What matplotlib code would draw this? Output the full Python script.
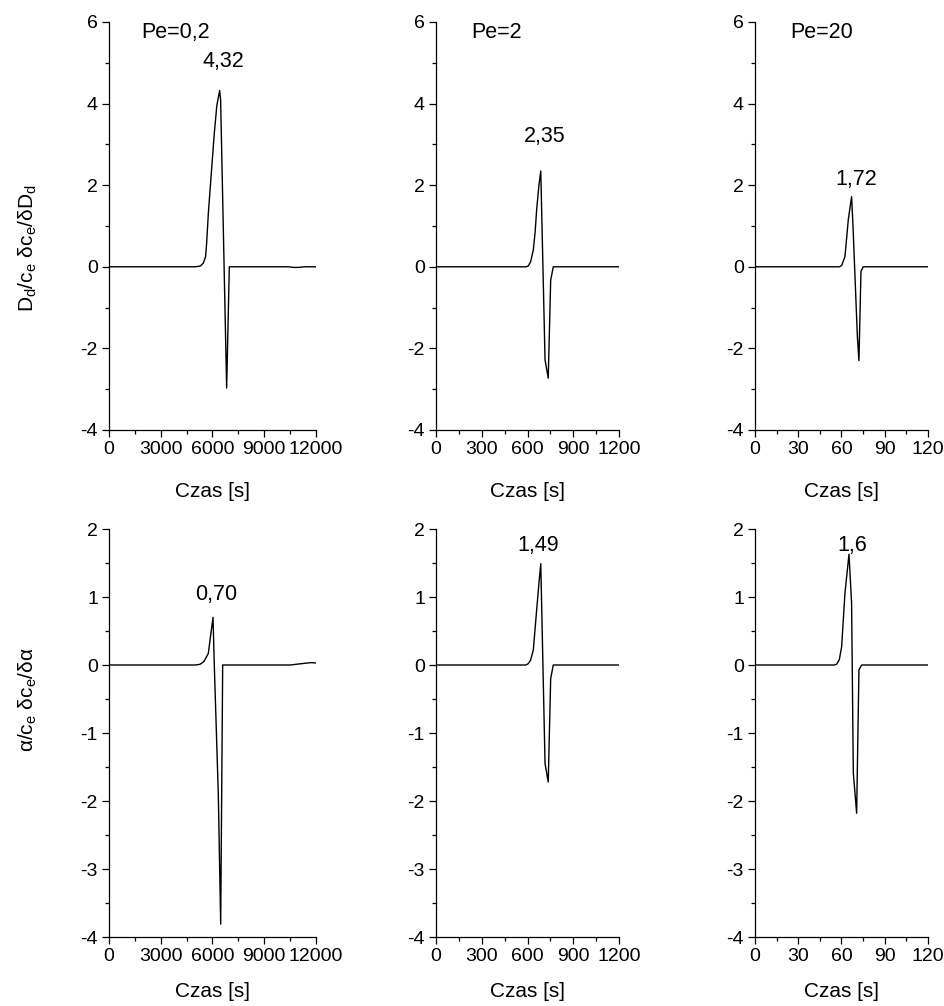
import numpy as np
import matplotlib
matplotlib.use("Agg")
import matplotlib.pyplot as plt
from matplotlib.ticker import MultipleLocator

plt.rcParams['font.family'] = ['Liberation Sans', 'DejaVu Sans']
plt.rcParams['mathtext.fontset'] = 'custom'
plt.rcParams['mathtext.rm'] = 'Liberation Sans'
plt.rcParams['mathtext.it'] = 'Liberation Sans'
plt.rcParams['axes.unicode_minus'] = False

# top row: D_d sensitivity, bottom row: alpha sensitivity
t_dd_pe02 = [0, 5000, 5300, 5467, 5600, 5660, 5760, 5950, 6100, 6250, 6413, 6470, 6820, 6975, 10400, 10700, 11000, 11300, 12000]
s_dd_pe02 = [0, 0, 0.02, 0.09, 0.25, 0.58, 1.32, 2.4, 3.25, 3.95, 4.32, 4.1, -2.97, 0, 0, -0.015, -0.015, 0, 0]

t_dd_pe2 = [0, 590, 605, 620, 638, 650, 660, 675, 687, 715, 736, 752, 769, 1200]
s_dd_pe2 = [0, 0, 0.02, 0.12, 0.41, 0.85, 1.4, 2.0, 2.35, -2.28, -2.73, -0.33, 0, 0]

t_dd_pe20 = [0, 58.5, 60.1, 62.4, 64.7, 67.0, 68.0, 71.0, 72.1, 73.5, 75.1, 120]
s_dd_pe20 = [0, 0, 0.03, 0.25, 1.15, 1.72, 0.98, -1.7, -2.3, -0.11, 0, 0]

t_al_pe02 = [0, 5000, 5275, 5500, 5757, 5900, 6030, 6104, 6337, 6474, 6590, 10500, 11000, 11700, 12000]
s_al_pe02 = [0, 0, 0.01, 0.05, 0.17, 0.45, 0.70, 0.0, -1.90, -3.81, 0, 0, 0.015, 0.035, 0.03]

t_al_pe2 = [0, 590, 605, 620, 638, 660, 675, 687, 715, 736, 752, 769, 1200]
s_al_pe2 = [0, 0, 0.02, 0.07, 0.22, 0.81, 1.2, 1.49, -1.45, -1.72, -0.20, 0, 0]

t_al_pe20 = [0, 55, 56.6, 58.5, 60.1, 62.4, 65.2, 67.0, 68.2, 70.5, 72.1, 74.0, 120]
s_al_pe20 = [0, 0, 0.01, 0.08, 0.27, 1.06, 1.63, 0.91, -1.59, -2.18, -0.07, 0, 0]

pe_labels = ["Pe=0,2", "Pe=2", "Pe=20"]
peak_dd = ["4,32", "2,35", "1,72"]
peak_al = ["0,70", "1,49", "1,6"]
x_max = [12000, 1200, 120]

W, H = 945, 1006
fig = plt.figure(figsize=(W / 100, H / 100), dpi=100)

# pixel boxes of the axes (left, right) per column, (top, bottom) per row
cols = [(109, 316), (436, 619), (755, 928)]
rows = [(22, 430), (529, 937)]

def make_ax(c, r):
    l, rr = cols[c]
    t, b = rows[r]
    ax = fig.add_axes([l / W, 1 - b / H, (rr - l) / W, (b - t) / H])
    for s in ['top', 'right']:
        ax.spines[s].set_visible(False)
    for s in ['left', 'bottom']:
        ax.spines[s].set_linewidth(0.9)
    ax.tick_params(which='major', direction='out', length=5, width=0.9, labelsize=14, pad=3)
    ax.tick_params(which='minor', direction='out', length=3, width=0.9)
    ax.set_xlim(0, x_max[c])
    ax.xaxis.set_minor_locator(MultipleLocator(x_max[c] / 8))
    ax.set_xticks(np.linspace(0, x_max[c], 5))
    ax.set_xticklabels([str(int(v)) for v in np.linspace(0, x_max[c], 5)])
    ax.set_xlabel("Czas [s]", fontsize=15)
    return ax

top_data = [(t_dd_pe02, s_dd_pe02), (t_dd_pe2, s_dd_pe2), (t_dd_pe20, s_dd_pe20)]
bot_data = [(t_al_pe02, s_al_pe02), (t_al_pe2, s_al_pe2), (t_al_pe20, s_al_pe20)]

# label positions in data coords
pe_x = [3884, 400, 46.5]
dd_lab_pos = [(6609, 5.02), (715, 3.19), (70, 2.13)]
al_lab_pos = [(6203, 1.04), (669, 1.76), (67.3, 1.76)]

for c in range(3):
    ax = make_ax(c, 0)
    t, s = top_data[c]
    ax.plot(t, s, color='black', lw=1.0)
    ax.set_ylim(-4, 6)
    ax.yaxis.set_major_locator(MultipleLocator(2))
    ax.yaxis.set_minor_locator(MultipleLocator(1))
    ax.text(pe_x[c], 5.74, pe_labels[c], fontsize=15.5, ha='center', va='center')
    ax.text(*dd_lab_pos[c], peak_dd[c], fontsize=15.5, ha='center', va='center')
    ax.xaxis.set_label_coords(0.5, -0.128)
    ax.xaxis.label.set_va('top')

    ax = make_ax(c, 1)
    t, s = bot_data[c]
    ax.plot(t, s, color='black', lw=1.0)
    ax.set_ylim(-4, 2)
    ax.yaxis.set_major_locator(MultipleLocator(1))
    ax.yaxis.set_minor_locator(MultipleLocator(0.5))
    ax.text(*al_lab_pos[c], peak_al[c], fontsize=15.5, ha='center', va='center')
    ax.xaxis.set_label_coords(0.5, -0.111)
    ax.xaxis.label.set_va('top')

fig.text(28 / W, 1 - 248 / H, r'$\mathrm{D_d/c_e\ \delta c_e/\delta D_d}$',
         rotation=90, ha='center', va='center', fontsize=15)
fig.text(28 / W, 1 - 700 / H, r'$\mathrm{\alpha/c_e\ \delta c_e/\delta\alpha}$',
         rotation=90, ha='center', va='center', fontsize=15)

fig.savefig("out.png", dpi=100)
